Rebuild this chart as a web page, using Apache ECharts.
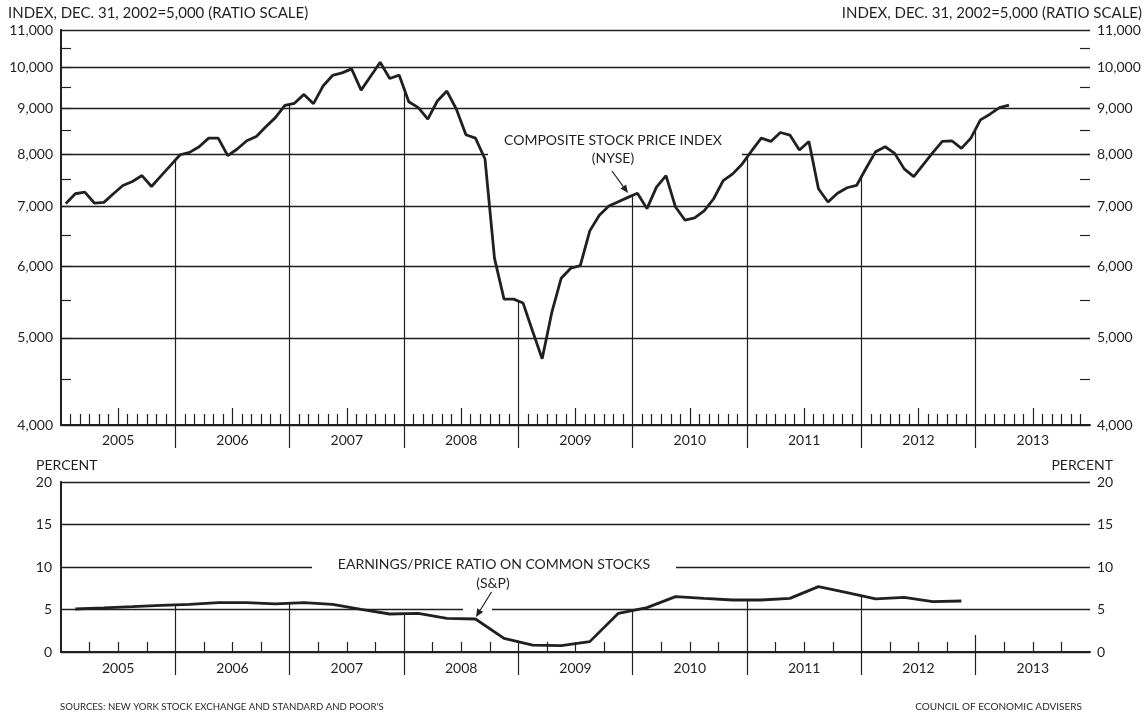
<!DOCTYPE html>
<html>
<head>
<meta charset="utf-8">
<script src="https://cdn.jsdelivr.net/npm/echarts@6/dist/echarts.min.js"></script>
<style>
html,body{margin:0;padding:0;background:#fff;}
#chart{width:1148px;height:717px;}
</style>
</head>
<body>
<div id="chart"></div>
<script>
// ---------- DATA ----------
const years = ['2005','2006','2007','2008','2009','2010','2011','2012','2013'];
// NYSE Composite, monthly Jan 2005 - Apr 2013
const compositeIndex = [
  7051,7232,7262,7062,7074,7232,7387,7462,7577,7368,7570,7778,
  7992,8040,8157,8340,8340,7973,8110,8283,8375,8584,8789,9071,
  9117,9328,9108,9529,9791,9856,9957,9431,9773,10128,9716,9798,
  9154,9016,8754,9171,9407,8979,8411,8340,7906,6129,5522,5522,
  5466,5085,4740,5329,5825,5976,6015,6576,6844,7008,7086,7165,
  7243,6962,7355,7577,6990,6758,6798,6920,7140,7481,7610,7806,
  8075,8340,8269,8460,8404,8090,8269,7325,7080,7243,7344,7387,
  7720,8055,8157,8020,7708,7558,7792,8034,8269,8283,8123,8340,
  8738,8866,9016,9077
];
// Earnings/price ratio (S&P), quarterly 2005Q1 - 2012Q4
const earningsPriceRatio = [
  5.06,5.18,5.33,5.49, 5.60,5.80,5.80,5.65, 5.80,5.60,5.02,4.47,
  4.55,3.96,3.88,1.60, 0.82,0.75,1.22,4.55, 5.22,6.51,6.31,6.12,
  6.12,6.31,7.69,6.98, 6.24,6.43,5.92,6.00
];
const indexTickLabels = [4000,5000,6000,7000,8000,9000,10000,11000];
const indexMinorTicks = [4500,5000,5500,6000,6500,7000,7500,8000,8500,9000,9500,10000,10500];
const percentTickLabels = [0,5,10,15,20];

// ---------- BUILD ----------
const INK = '#231f20';
const FONT = 'Lato';
const nMonths = years.length * 12;
const monthTicks = [], midYear = [], yearBounds = [], quarterTicks = [];
for (let m = 1; m < nMonths; m++) {
  if (m % 12 === 0) yearBounds.push(m);
  else if (m % 12 === 6) midYear.push(m);
  else monthTicks.push(m);
  if (m % 3 === 0 && m % 12 !== 0) quarterTicks.push(m);
}
const yearCenters = years.map((y, i) => i * 12 + 6);
const yearFmt = v => years[Math.floor(v / 12)] || '';

const compData = compositeIndex.map((v, i) => [i + 0.5, v]);
const epData = earningsPriceRatio.map((v, i) => [3 * i + 1.5, v]);

const topDrops = [], botDrops = [];
yearBounds.forEach(m => {
  const a = compositeIndex[m - 1], b = compositeIndex[m];
  if (a !== undefined && b !== undefined) {
    topDrops.push([{coord: [m, 4000]}, {coord: [m, Math.sqrt(a * b)]}]);
  }
  const q = m / 3;
  const c = earningsPriceRatio[q - 1], d = earningsPriceRatio[q];
  if (c !== undefined && d !== undefined) {
    botDrops.push([{coord: [m, 0]}, {coord: [m, (c + d) / 2]}]);
  } else {
    botDrops.push([{coord: [m, 0]}, {coord: [m, 2]}]);
  }
});

const fmtComma = v => Number(v).toLocaleString('en-US');

function arrow(x1, y1, x2, y2) {
  const dx = x2 - x1, dy = y2 - y1, L = Math.hypot(dx, dy);
  const ux = dx / L, uy = dy / L, hl = 8, hw = 3.5;
  const bx = x2 - ux * hl, by = y2 - uy * hl;
  return [
    {type: 'line', z: 20, shape: {x1: x1, y1: y1, x2: bx, y2: by}, style: {stroke: INK, lineWidth: 1.2}},
    {type: 'polygon', z: 20, shape: {points: [[x2, y2], [bx - uy * hw, by + ux * hw], [bx + uy * hw, by - ux * hw]]}, style: {fill: INK}}
  ];
}

const labelStyle = {color: INK, fontFamily: FONT, fontSize: 14};
const GRID_LEFT = 61, GRID_RIGHT = 58, CHART_W = 1148;
const GRID_W = CHART_W - GRID_LEFT - GRID_RIGHT;

const option = {
  animation: false,
  backgroundColor: '#fff',
  textStyle: {fontFamily: FONT, color: INK},
  grid: [
    {left: GRID_LEFT, right: GRID_RIGHT, top: 30, height: 395},
    {left: GRID_LEFT, right: GRID_RIGHT, top: 482, height: 170}
  ],
  xAxis: [
    // top grid
    {gridIndex: 0, type: 'value', min: 0, max: nMonths, position: 'bottom',
      axisLine: {show: true, onZero: false, lineStyle: {color: INK, width: 2}},
      axisTick: {show: true, inside: true, length: 11, customValues: monthTicks, lineStyle: {color: INK, width: 1.2}},
      axisLabel: {show: true, customValues: yearCenters, formatter: yearFmt, margin: 8, ...labelStyle},
      splitLine: {show: false}},
    {gridIndex: 0, type: 'value', min: 0, max: nMonths, position: 'bottom',
      axisLine: {show: false, onZero: false},
      axisTick: {show: true, inside: true, length: 17, customValues: midYear, lineStyle: {color: INK, width: 1.2}},
      axisLabel: {show: false}, splitLine: {show: false}},
    {gridIndex: 0, type: 'value', min: 0, max: nMonths, position: 'bottom',
      axisLine: {show: false, onZero: false},
      axisTick: {show: true, inside: false, length: 23, customValues: yearBounds, lineStyle: {color: INK, width: 1.2}},
      axisLabel: {show: false}, splitLine: {show: false}},
    // bottom grid
    {gridIndex: 1, type: 'value', min: 0, max: nMonths, position: 'bottom',
      axisLine: {show: true, onZero: false, lineStyle: {color: INK, width: 2}},
      axisTick: {show: true, inside: true, length: 10, customValues: quarterTicks, lineStyle: {color: INK, width: 1.2}},
      axisLabel: {show: true, customValues: yearCenters, formatter: yearFmt, margin: 9, ...labelStyle},
      splitLine: {show: false}},
    {gridIndex: 1, type: 'value', min: 0, max: nMonths, position: 'bottom',
      axisLine: {show: false, onZero: false},
      axisTick: {show: true, inside: false, length: 23, customValues: yearBounds, lineStyle: {color: INK, width: 1.2}},
      axisLabel: {show: false}, splitLine: {show: false}}
  ],
  yAxis: [
    // 0: left labels + inward ticks
    {gridIndex: 0, type: 'log', logBase: 10, min: 4000, max: 11000, position: 'left',
      axisLine: {show: true, lineStyle: {color: INK, width: 2}},
      axisTick: {show: true, inside: true, length: 10, customValues: indexMinorTicks, lineStyle: {color: INK, width: 1.2}},
      axisLabel: {show: true, customValues: indexTickLabels, formatter: fmtComma, margin: 8, ...labelStyle},
      splitLine: {show: false}},
    // 1: right labels + axis line
    {gridIndex: 0, type: 'log', logBase: 10, min: 4000, max: 11000, position: 'right',
      axisLine: {show: true, lineStyle: {color: INK, width: 2}},
      axisTick: {show: false},
      axisLabel: {show: true, customValues: indexTickLabels, formatter: fmtComma, margin: 7, ...labelStyle},
      splitLine: {show: false}},
    // 2: gridlines at the thousands
    {gridIndex: 0, type: 'log', logBase: 10, min: 4000, max: 11000, position: 'left',
      axisLine: {show: false}, axisLabel: {show: false},
      axisTick: {show: false, customValues: indexTickLabels},
      splitLine: {show: true, lineStyle: {color: INK, width: 1.3}}},
    // 3: right-side inward ticks (left-type axis shifted to the right edge)
    {gridIndex: 0, type: 'log', logBase: 10, min: 4000, max: 11000, position: 'left', offset: -GRID_W,
      axisLine: {show: false}, axisLabel: {show: false},
      axisTick: {show: true, inside: false, length: 10, customValues: indexMinorTicks, lineStyle: {color: INK, width: 1.2}},
      splitLine: {show: false}},
    // bottom grid
    {gridIndex: 1, type: 'value', min: 0, max: 20, interval: 5, position: 'left',
      axisLine: {show: true, lineStyle: {color: INK, width: 2}},
      axisTick: {show: false},
      axisLabel: {show: true, margin: 9, ...labelStyle},
      splitLine: {show: true, lineStyle: {color: INK, width: 1.3}}},
    {gridIndex: 1, type: 'value', min: 0, max: 20, interval: 5, position: 'right',
      axisLine: {show: true, lineStyle: {color: INK, width: 2}},
      axisTick: {show: false},
      axisLabel: {show: true, margin: 7, ...labelStyle},
      splitLine: {show: false}}
  ],
  series: [
    {type: 'line', name: 'Composite stock price index (NYSE)', xAxisIndex: 0, yAxisIndex: 0,
      data: compData, showSymbol: false, symbol: 'none', z: 5,
      lineStyle: {color: INK, width: 2.8},
      markLine: {silent: true, symbol: ['none', 'none'], label: {show: false},
        lineStyle: {color: INK, width: 1.2, type: 'solid'}, data: topDrops}},
    {type: 'line', name: 'Earnings/price ratio (S&P)', xAxisIndex: 3, yAxisIndex: 4,
      data: epData, showSymbol: false, symbol: 'none', z: 5,
      lineStyle: {color: INK, width: 2.8},
      markLine: {silent: true, symbol: ['none', 'none'], label: {show: false},
        lineStyle: {color: INK, width: 1.2, type: 'solid'}, data: botDrops}}
  ],
  graphic: {elements: [
    {type: 'text', left: 8, top: 6, z: 20, style: {text: 'INDEX, DEC. 31, 2002=5,000 (RATIO SCALE)', fill: INK, font: '15px Lato'}},
    {type: 'text', right: 6, top: 6, z: 20, style: {text: 'INDEX, DEC. 31, 2002=5,000 (RATIO SCALE)', fill: INK, font: '15px Lato'}},
    {type: 'text', left: 36, top: 458, z: 20, style: {text: 'PERCENT', fill: INK, font: '14px Lato'}},
    {type: 'text', right: 35, top: 458, z: 20, style: {text: 'PERCENT', fill: INK, font: '14px Lato'}},
    // white gaps in gridlines behind labels
    {type: 'rect', z: 1, shape: {x: 488, y: 150, width: 254, height: 8}, style: {fill: '#fff'}},
    {type: 'rect', z: 1, shape: {x: 312, y: 563, width: 364, height: 8}, style: {fill: '#fff'}},
    {type: 'rect', z: 1, shape: {x: 463, y: 606, width: 29, height: 7}, style: {fill: '#fff'}},
    {type: 'text', x: 613, y: 140, z: 20, style: {text: 'COMPOSITE STOCK PRICE INDEX', fill: INK, font: '14px Lato', textAlign: 'center', textVerticalAlign: 'middle'}},
    {type: 'text', x: 613, y: 158, z: 20, style: {text: '(NYSE)', fill: INK, font: '14px Lato', textAlign: 'center', textVerticalAlign: 'middle'}},
    ...arrow(612, 171, 628, 193),
    {type: 'text', x: 494, y: 564, z: 20, style: {text: 'EARNINGS/PRICE RATIO ON COMMON STOCKS', fill: INK, font: '14px Lato', textAlign: 'center', textVerticalAlign: 'middle'}},
    {type: 'text', x: 493, y: 583, z: 20, style: {text: '(S&P)', fill: INK, font: '14px Lato', textAlign: 'center', textVerticalAlign: 'middle'}},
    ...arrow(491.5, 592, 476, 617),
    {type: 'text', left: 60, top: 702, z: 20, style: {text: "SOURCES: NEW YORK STOCK EXCHANGE AND STANDARD AND POOR'S", fill: INK, font: '9.6px Lato'}},
    {type: 'text', right: 66, top: 702, z: 20, style: {text: 'COUNCIL OF ECONOMIC ADVISERS', fill: INK, font: '10px Lato'}}
  ]}
};

const chart = echarts.init(document.getElementById('chart'), null, {renderer: 'canvas'});
chart.setOption(option);
</script>
</body>
</html>
